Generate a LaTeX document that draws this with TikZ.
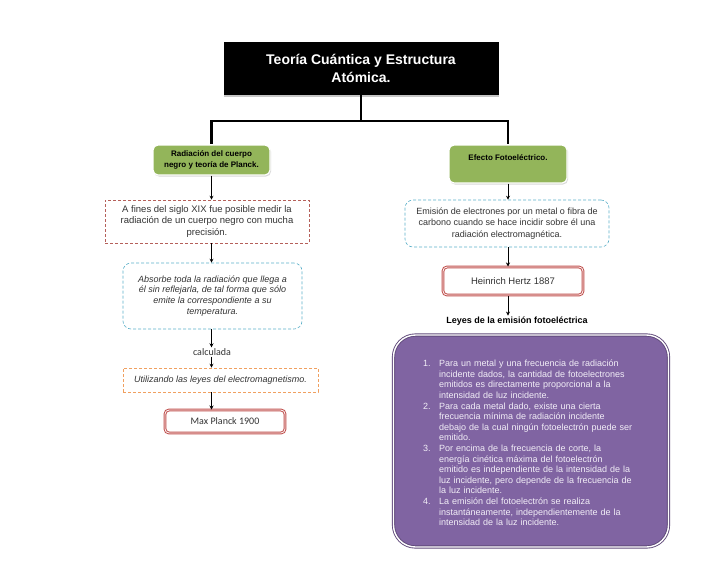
\documentclass[tikz,border=0pt]{standalone}
\usepackage{fontspec}
\setmainfont{Liberation Sans}
\newfontfamily\calibri{Carlito}
\usepackage{enumitem}
\usepackage{xcolor}
\usetikzlibrary{arrows.meta,shadows}

\definecolor{verde}{HTML}{93B55A}
\definecolor{rojo}{HTML}{C0504D}
\definecolor{cafe}{HTML}{B5605A}
\definecolor{celeste}{HTML}{5AAFC8}
\definecolor{naranja}{HTML}{F0A060}
\definecolor{morado}{HTML}{8064A2}
\definecolor{moradoosc}{HTML}{5F497A}
\definecolor{lavanda}{HTML}{F2EEF7}
\definecolor{texto}{HTML}{333333}

\begin{document}
\begin{tikzpicture}[
	x=1pt, y=-1pt,
	font=\fontsize{9}{11.5}\selectfont,
	% Cajas principales
	titulo/.style={fill=black, text=white, align=center, inner sep=0pt,
		font=\fontsize{14}{18.5}\selectfont\bfseries,
		drop shadow={shadow xshift=0pt, shadow yshift=-2pt, fill=gray!45, opacity=1}},
	tema/.style={fill=verde, draw=white, line width=1.2pt, rounded corners=5pt,
		align=center, inner sep=0pt, font=\fontsize{8}{10.5}\selectfont\bfseries,
		drop shadow={shadow xshift=1pt, shadow yshift=-1.5pt, opacity=0.3}},
	% Cajas punteadas
	punteada/.style={dash pattern=on 3pt off 2pt, line width=0.6pt,
		align=center, inner sep=0pt, text=texto},
	fecha/.style={draw=rojo, double=white, line width=1pt, double distance=0.8pt,
		rounded corners=4pt, fill=white, inner sep=0pt, text=texto},
	flecha/.style={-{Stealth[length=4pt,width=4pt]}, line width=0.7pt},
	tronco/.style={line width=2.2pt}
	]
	\useasboundingbox (0,0) rectangle (728,563);

	% --- TITULO ---
	\node[titulo, minimum width=275pt, minimum height=53pt] (tit) at (361,68.5)
		{Teoría Cuántica y Estructura\\Atómica.};

	% --- TEMAS ---
	\node[tema, minimum width=117pt, minimum height=30pt] (rad) at (211.5,160)
		{Radiación del cuerpo\\negro y teoría de Planck.};
	\node[tema, minimum width=118pt, minimum height=38pt] (efe) at (508,164)
		{Efecto Fotoeléctrico.\\\strut};

	% --- RAMA IZQUIERDA ---
	\node[punteada, draw=cafe, minimum width=204pt, minimum height=43pt,
		font=\fontsize{9.5}{11.7}\selectfont] (dato) at (207,221.5)
		{A fines del siglo XIX fue posible medir la\\radiación de un cuerpo negro con mucha\\precisión.};
	\node[punteada, draw=celeste, rounded corners=8pt, minimum width=179pt, minimum height=66pt,
		font=\fontsize{9}{10.8}\selectfont\itshape] (absorbe) at (212.5,296)
		{Absorbe toda la radiación que llega a\\él sin reflejarla, de tal forma que sólo\\emite la correspondiente a su\\temperatura.};
	\node[inner sep=1pt, text=texto, font=\calibri\fontsize{10}{12}\selectfont] (calc) at (212,352) {calculada};
	\node[punteada, draw=naranja, minimum width=195pt, minimum height=24pt,
		font=\fontsize{9}{10}\selectfont\itshape] (utiliz) at (220.5,380)
		{Utilizando las leyes del electromagnetismo.};
	\node[fecha, minimum width=120pt, minimum height=23pt,
		font=\calibri\fontsize{10}{12}\selectfont] (maxp) at (225,421.5) {Max Planck 1900};

	% --- RAMA DERECHA ---
	\node[punteada, draw=celeste, rounded corners=8pt, minimum width=204pt, minimum height=47pt] (emision) at (507,223.5)
		{Emisión de electrones por un metal o fibra de\\carbono cuando se hace incidir sobre él una\\radiación electromagnética.};
	\node[fecha, minimum width=140pt, minimum height=28pt,
		font=\fontsize{9.5}{11}\selectfont] (hertz) at (513,281) {Heinrich Hertz 1887};
	\node[inner sep=1pt, font=\fontsize{9}{10}\selectfont\bfseries] (leyes) at (517,321)
		{Leyes de la emisión fotoeléctrica};
	\node[fill=morado, draw=moradoosc, double=white, line width=0.9pt, double distance=1.4pt,
		rounded corners=22pt, minimum width=275pt, minimum height=212pt, inner sep=0pt,
		text=lavanda, text width=216pt, font=\fontsize{9}{10.6}\selectfont] (lista) at (531,441)
		{\raggedright\baselineskip=10.6pt
		\begin{enumerate}[label=\arabic*., leftmargin=16pt, labelwidth=12pt, labelsep=4pt,
			align=left, itemsep=0pt, topsep=0pt, parsep=0pt, partopsep=0pt]
			\item Para un metal y una frecuencia de radiación\newline incidente dados, la cantidad de fotoelectrones\newline emitidos es directamente proporcional a la\newline intensidad de luz incidente.
			\item Para cada metal dado, existe una cierta\newline frecuencia mínima de radiación incidente\newline debajo de la cual ningún fotoelectrón puede ser\newline emitido.
			\item Por encima de la frecuencia de corte, la\newline energía cinética máxima del fotoelectrón\newline emitido es independiente de la intensidad de la\newline luz incidente, pero depende de la frecuencia de\newline la luz incidente.
			\item La emisión del fotoelectrón se realiza\newline instantáneamente, independientemente de la\newline intensidad de la luz incidente.
		\end{enumerate}};

	% --- CONECTORES ---
	\draw[tronco] (tit.south) -- ++(0,26) -| (rad.north);
	\draw[tronco] (tit.south) -- ++(0,26) -| (efe.north);

	\draw[flecha] (rad.south) -- (rad.south |- dato.north);
	\draw[flecha] (rad.south |- dato.south) -- (rad.south |- absorbe.north);
	\draw[flecha] (rad.south |- absorbe.south) -- (rad.south |- calc.north);
	\draw[flecha] (rad.south |- calc.south) -- (rad.south |- utiliz.north);
	\draw[flecha] (rad.south |- utiliz.south) -- (rad.south |- maxp.north);

	\draw[flecha] (efe.south) -- (efe.south |- emision.north);
	\draw[flecha] (efe.south |- emision.south) -- (efe.south |- hertz.north);
	\draw[flecha] (efe.south |- hertz.south) -- (efe.south |- leyes.north);

\end{tikzpicture}
\end{document}
